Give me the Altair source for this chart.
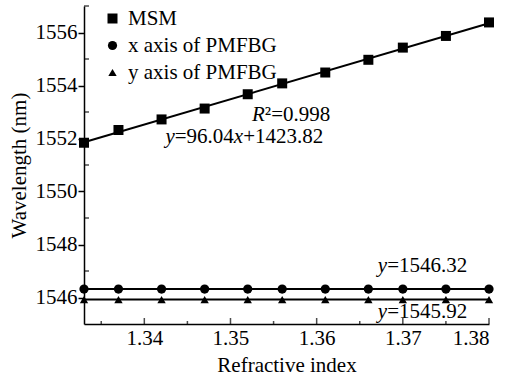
import altair as alt
import pandas as pd

# ---- data ----
refractive_index = [1.333, 1.337, 1.342, 1.347, 1.352, 1.356, 1.361, 1.366, 1.370, 1.375, 1.380]
msm = [1551.84, 1552.32, 1552.72, 1553.13, 1553.67, 1554.08, 1554.49, 1554.97, 1555.43, 1555.87, 1556.38]
x_axis_pmfbg = [1546.32] * 11
y_axis_pmfbg = [1545.92] * 11
series_names = ["MSM", "x axis of PMFBG", "y axis of PMFBG"]

x_major = [1.34, 1.35, 1.36, 1.37, 1.38]
x_minor = [1.335, 1.345, 1.355, 1.365, 1.375]
y_major = [1546, 1548, 1550, 1552, 1554, 1556]
y_minor = [1547, 1549, 1551, 1553, 1555, 1557]

# annotations: anchor (data coords) and pieces (text, italic?)
ann_x = [1.3525, 1.34245, 1.3671, 1.3671]
ann_y = [1552.65, 1551.82, 1546.98, 1545.21]
ann_pieces = [
    [("R", True), ("²=0.998", False)],
    [("y", True), ("=96.04", False), ("x", True), ("+1423.82", False)],
    [("y", True), ("=1546.32", False)],
    [("y", True), ("=1545.92", False)],
]

FONT = "Liberation Serif"
FS = 21
W, H = 405, 318

rows = []
for name, vals in zip(series_names, [msm, x_axis_pmfbg, y_axis_pmfbg]):
    for r, v in zip(refractive_index, vals):
        rows.append({"ri": r, "val": v, "series": name})
df = pd.DataFrame(rows)
df_msm = df[df.series == "MSM"]
df_flat = df[df.series != "MSM"]

xs = alt.Scale(domain=[1.333, 1.38], nice=False, zero=False)
ys = alt.Scale(domain=[1545, 1557], nice=False, zero=False)

axis_bottom = alt.Axis(orient="bottom", values=x_major, format=".2f", ticks=False, tickSize=0,
                       labelPadding=3, title="Refractive index", titlePadding=6, grid=False)
axis_left = alt.Axis(orient="left", values=y_major, format="d", tickSize=6, labelPadding=1,
                     title="Wavelength (nm)", titlePadding=6, grid=False)

shape_scale = alt.Scale(domain=series_names, range=["square", "circle", "triangle-up"])
size_scale = alt.Scale(domain=series_names, range=[100, 70, 85])
legend = alt.Legend(orient="none", legendX=18, legendY=2, title=None, labelFont=FONT,
                    labelFontSize=FS, labelColor="black", symbolFillColor="black",
                    symbolStrokeColor="black", labelOffset=5, rowPadding=5, padding=0)

points = alt.Chart(df).mark_point(filled=True, opacity=1, color="black").encode(
    x=alt.X("ri:Q", scale=xs, axis=axis_bottom),
    y=alt.Y("val:Q", scale=ys, axis=axis_left),
    shape=alt.Shape("series:N", scale=shape_scale, legend=legend, sort=series_names),
    size=alt.Size("series:N", scale=size_scale, legend=legend, sort=series_names),
)

# inward ticks (positions from the tick-value lists)
def x_ticks(values, length):
    return alt.Chart(pd.DataFrame({"t": values})).mark_tick(
        color="black", thickness=1.5, orient="vertical").encode(
        x=alt.X("t:Q", scale=xs, axis=None),
        y=alt.value(H - length / 2),
        size=alt.value(length),
    )

y_ticks = alt.Chart(pd.DataFrame({"t": y_minor})).mark_tick(
    color="black", thickness=1.5, orient="horizontal").encode(
    y=alt.Y("t:Q", scale=ys, axis=None),
    x=alt.value(2.5),
    size=alt.value(5),
)

fit_line = alt.Chart(df_msm).transform_regression(
    "ri", "val", extent=[1.333, 1.38]
).mark_line(color="black", strokeWidth=2).encode(
    x=alt.X("ri:Q", scale=xs, axis=None),
    y=alt.Y("val:Q", scale=ys, axis=None),
)

flat_lines = alt.Chart(df_flat).mark_line(color="black", strokeWidth=2).encode(
    x=alt.X("ri:Q", scale=xs, axis=None),
    y=alt.Y("val:Q", scale=ys, axis=None),
    detail="series:N",
)

# approximate advance widths (em) for Liberation Serif
def text_width(s, italic):
    w = 0
    for ch in s:
        if ch.isdigit():
            w += 0.5
        elif ch in "=+":
            w += 0.564
        elif ch == ".":
            w += 0.25
        elif ch == "²":
            w += 0.3
        elif ch == "R":
            w += 0.611
        else:
            w += 0.444
    return w * FS

text_layers = []
for ax, ay, pieces in zip(ann_x, ann_y, ann_pieces):
    dx = 0.0
    for txt, it in pieces:
        tdf = pd.DataFrame({"x": [ax], "y": [ay], "t": [txt]})
        text_layers.append(
            alt.Chart(tdf).mark_text(align="left", baseline="alphabetic", dx=dx, font=FONT,
                                     fontSize=FS, fontStyle="italic" if it else "normal",
                                     color="black").encode(
                x=alt.X("x:Q", scale=xs, axis=None),
                y=alt.Y("y:Q", scale=ys, axis=None),
                text="t:N",
            )
        )
        dx += text_width(txt, it)

chart = alt.layer(points, x_ticks(x_major, 6), x_ticks(x_minor, 3), y_ticks,
                  fit_line, flat_lines, *text_layers).resolve_axis(
    x="independent", y="independent"
).properties(
    width=W, height=H,
    autosize=alt.AutoSizeParams(type="none"),
    padding={"left": 84, "top": 6, "right": 28, "bottom": 55},
    background="white",
).configure_view(stroke=None).configure_axis(
    labelFont=FONT, labelFontSize=FS, labelColor="black",
    titleFont=FONT, titleFontSize=FS, titleColor="black", titleFontWeight="normal",
    domainColor="black", domainWidth=1.5, tickColor="black", tickWidth=1.5,
)

chart.save("out.html", embed_options={"renderer": "svg", "actions": False})
